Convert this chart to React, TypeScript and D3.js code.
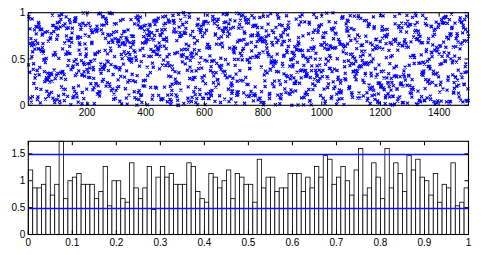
import React from 'react'
import * as d3 from 'd3'

// histogram counts of the 1500 samples, 100 bins over [0, 1]
const binCounts = [
  18, 13, 13, 14, 19, 11, 14, 26, 10, 15, 16, 17, 14, 14, 14, 10, 12, 19, 8, 15,
  15, 10, 9, 20, 13, 10, 13, 19, 7, 16, 19, 16, 17, 14, 14, 14, 20, 19, 12, 10,
  9, 17, 16, 13, 15, 18, 10, 17, 16, 14, 14, 9, 21, 13, 16, 16, 12, 13, 13, 17,
  17, 17, 12, 16, 13, 19, 16, 22, 21, 14, 16, 19, 15, 11, 18, 24, 11, 13, 20, 16,
  10, 24, 13, 20, 17, 12, 22, 18, 21, 16, 15, 11, 17, 9, 14, 13, 20, 8, 9, 13
]
const sampleCount = 1500
const binCount = 100

const topXTicks = [200, 400, 600, 800, 1000, 1200, 1400]
const topYTicks = [0, 0.5, 1]
const bottomXTicks = [0, 0.1, 0.2, 0.3, 0.4, 0.5, 0.6, 0.7, 0.8, 0.9, 1]
const bottomYTicks = [0, 0.5, 1, 1.5]
const refLines = [0.5, 1.5]

// sample values rebuilt from the histogram; order along the index axis is a fixed shuffle
const sampleValues: number[] = []
binCounts.forEach((c, b) => {
  for (let j = 0; j < c; j++) sampleValues.push((b + (j + 0.5) / c) / binCount)
})
d3.shuffler(d3.randomLcg(0.4242))(sampleValues)

const density = binCounts.map(c => (c * binCount) / sampleCount)

const W = 482
const H = 255
const FONT = 'Liberation Sans, Arial, sans-serif'
const TICK = 4

const App: React.FC = () => {
  // top panel
  const xTop = d3.scaleLinear().domain([0, sampleCount]).range([28.3, 468.5])
  const yTop = d3.scaleLinear().domain([0, 1]).range([105.3, 12.7])

  // bottom panel
  const xBot = d3.scaleLinear().domain([0, 1]).range([28.3, 468.5])
  const yBot = d3.scaleLinear().domain([0, d3.max(density)!]).range([234.5, 141.3])

  const [tx0, tx1] = xTop.range()
  const [ty0, ty1] = yTop.range()
  const [bx0, bx1] = xBot.range()
  const [by0, by1] = yBot.range()

  const marker = 'M-1.5,-1.5L1.5,1.5M-1.5,1.5L1.5,-1.5'

  return (
    <svg width={W} height={H} style={{ position: 'absolute', left: 0, top: 0, background: '#fff' }}
      fontFamily={FONT}>
      {/* top: scatter of samples */}
      <g>
        {sampleValues.map((v, i) => (
          <path key={i} d={marker} transform={`translate(${xTop(i + 1)},${yTop(v)})`}
            stroke="#0000ff" strokeWidth={1.15} fill="none" />
        ))}
        <rect x={tx0} y={ty1} width={tx1 - tx0} height={ty0 - ty1} fill="none" stroke="#000" strokeWidth={1.1} />
        {topXTicks.map(t => (
          <g key={t}>
            <line x1={xTop(t)} x2={xTop(t)} y1={ty0} y2={ty0 - TICK} stroke="#000" />
            <line x1={xTop(t)} x2={xTop(t)} y1={ty1} y2={ty1 + TICK} stroke="#000" />
            <text x={xTop(t)} y={ty0 + 10.5} fontSize={10} textAnchor="middle">{t}</text>
          </g>
        ))}
        {topYTicks.map(t => (
          <g key={t}>
            <line x1={tx0} x2={tx0 + TICK} y1={yTop(t)} y2={yTop(t)} stroke="#000" />
            <line x1={tx1} x2={tx1 - TICK} y1={yTop(t)} y2={yTop(t)} stroke="#000" />
            <text x={tx0 - 3} y={yTop(t) + 3.5} fontSize={10} textAnchor="end">{t}</text>
          </g>
        ))}
      </g>

      {/* bottom: normalised histogram */}
      <g>
        {density.map((d, b) => (
          <rect key={b} x={xBot(b / binCount)} y={yBot(d)}
            width={xBot((b + 1) / binCount) - xBot(b / binCount)} height={by0 - yBot(d)}
            fill="#fff" stroke="#000" strokeWidth={0.8} />
        ))}
        {refLines.map(r => (
          <line key={r} x1={bx0} x2={bx1} y1={Math.round(yBot(r)) + 0.5} y2={Math.round(yBot(r)) + 0.5}
            stroke="#1010ff" strokeWidth={1.5} />
        ))}
        <rect x={bx0} y={by1} width={bx1 - bx0} height={by0 - by1} fill="none" stroke="#000" strokeWidth={1.1} />
        {bottomXTicks.map(t => (
          <g key={t}>
            <line x1={xBot(t)} x2={xBot(t)} y1={by0} y2={by0 - TICK} stroke="#000" />
            <line x1={xBot(t)} x2={xBot(t)} y1={by1} y2={by1 + TICK} stroke="#000" />
            <text x={xBot(t)} y={by0 + 11.5} fontSize={10} textAnchor="middle">{t}</text>
          </g>
        ))}
        {bottomYTicks.map(t => (
          <g key={t}>
            <line x1={bx0} x2={bx0 + TICK} y1={yBot(t)} y2={yBot(t)} stroke="#000" />
            <line x1={bx1} x2={bx1 - TICK} y1={yBot(t)} y2={yBot(t)} stroke="#000" />
            <text x={bx0 - 3} y={yBot(t) + 3.5} fontSize={10} textAnchor="end">{t}</text>
          </g>
        ))}
      </g>
    </svg>
  )
}

export default App
